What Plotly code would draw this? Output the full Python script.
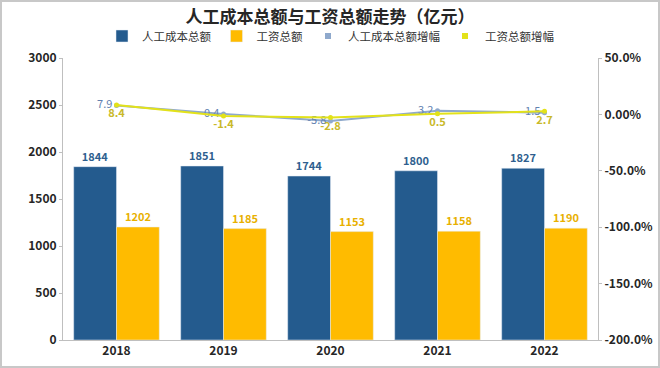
import plotly.graph_objects as go

years = ["2018", "2019", "2020", "2021", "2022"]
labor_cost = [1844, 1851, 1744, 1800, 1827]
wage_total = [1202, 1185, 1153, 1158, 1190]
labor_growth = [7.9, 0.4, -5.8, 3.2, 1.5]
wage_growth = [8.4, -1.4, -2.8, 0.5, 2.7]

right_tickvals = [50, 0, -50, -100, -150, -200]
right_ticktext = ["50.0%", "0.00%", "-50.0%", "-100.0%", "-150.0%", "-200.0%"]

FONT = "Noto Sans CJK SC, Microsoft YaHei, sans-serif"
BLUE = "#245b8e"
YELLOW = "#ffbb00"
LBLUE = "#8fa9cc"
LYEL = "#e3e21a"

fig = go.Figure()
fig.add_trace(go.Bar(
    x=years, y=labor_cost, name="人工成本总额", marker_color=BLUE,
    text=labor_cost, textposition="outside", cliponaxis=False,
    textfont=dict(color="#2f5f8f", size=11, family=FONT, weight="bold"),
))
fig.add_trace(go.Bar(
    x=years, y=wage_total, name="工资总额", marker_color=YELLOW,
    text=wage_total, textposition="outside", cliponaxis=False,
    textfont=dict(color="#e8b000", size=11, family=FONT, weight="bold"),
))
fig.add_trace(go.Scatter(
    x=years, y=labor_growth, name="人工成本总额增幅", yaxis="y2", showlegend=False,
    mode="lines+markers+text", line=dict(color=LBLUE, width=2),
    marker=dict(color=LBLUE, size=5), text=[f"{v}" for v in labor_growth],
    textposition="middle left", cliponaxis=False,
    textfont=dict(color="#6281b0", size=11, family=FONT),
))
fig.add_trace(go.Scatter(
    x=years, y=wage_growth, name="工资总额增幅", yaxis="y2", showlegend=False,
    mode="lines+markers+text", line=dict(color=LYEL, width=2),
    marker=dict(color=LYEL, size=5), text=[f"{v}" for v in wage_growth],
    textposition="bottom center", cliponaxis=False,
    textfont=dict(color="#c9b92a", size=11, family=FONT, weight="bold"),
))
# legend-only entries for the growth lines (shown as small square markers)
fig.add_trace(go.Scatter(x=[None], y=[None], name="人工成本总额增幅", mode="markers",
                         marker=dict(color=LBLUE, size=6, symbol="square")))
fig.add_trace(go.Scatter(x=[None], y=[None], name="工资总额增幅", mode="markers",
                         marker=dict(color=LYEL, size=6, symbol="square")))

fig.update_layout(
    width=660, height=368,
    margin=dict(l=63, r=62, t=58, b=28, autoexpand=False),
    paper_bgcolor="white", plot_bgcolor="white",
    font=dict(family=FONT, color="#222222", size=11),
    title=dict(text="<b>人工成本总额与工资总额走势（亿元）</b>", x=0.5, xanchor="center",
               yref="container", y=1 - 17 / 368, yanchor="middle",
               font=dict(size=17, color="#262626", family=FONT)),
    legend=dict(orientation="h", x=0.5, xanchor="center", yref="container",
                y=1 - 36 / 368, yanchor="middle",
                font=dict(size=11.5, color="#333333", family=FONT), itemwidth=30,
                tracegroupgap=0),
    barmode="group", bargap=0.2, bargroupgap=0,
    xaxis=dict(showline=True, linecolor="#bfbfbf", linewidth=1, ticks="",
               tickfont=dict(size=12, color="#262626", family=FONT, weight="bold"),
               showgrid=False),
    yaxis=dict(range=[0, 3000], tickvals=[0, 500, 1000, 1500, 2000, 2500, 3000],
               showgrid=False, showline=True, linecolor="#bfbfbf", linewidth=1,
               ticks="outside", ticklen=3, tickcolor="#bfbfbf",
               tickfont=dict(size=12, color="#262626", family=FONT, weight="bold"),
               zeroline=False),
    yaxis2=dict(range=[-200, 50], overlaying="y", side="right",
                tickvals=right_tickvals, ticktext=right_ticktext,
                showgrid=False, showline=True, linecolor="#bfbfbf", linewidth=1,
                ticks="outside", ticklen=3, tickcolor="#bfbfbf",
                tickfont=dict(size=12, color="#262626", family=FONT, weight="bold"),
                zeroline=False),
    shapes=[dict(type="rect", xref="paper", yref="paper",
                 x0=-62/535, x1=1+61/535, y0=-27/282, y1=1+57/282,
                 line=dict(color="#c8c8c8", width=2), fillcolor="rgba(0,0,0,0)")],
)

fig.write_html("out.html", config={"displayModeBar": False},
               post_script="document.body.style.margin='0';")
